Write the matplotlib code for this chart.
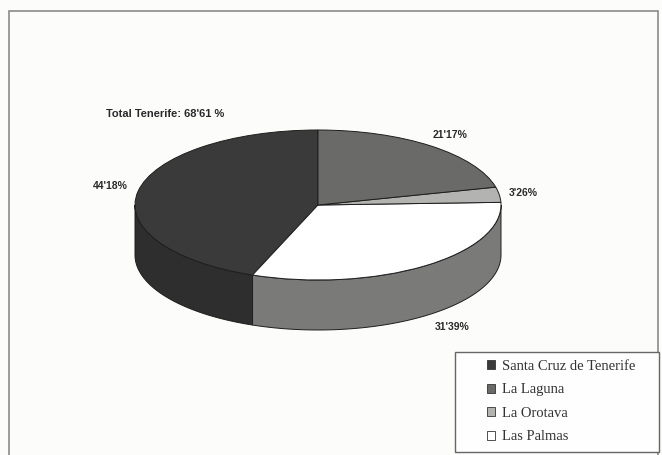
import matplotlib
matplotlib.use('Agg')
import matplotlib.pyplot as plt
import matplotlib.transforms as mtransforms
from matplotlib.patches import Patch, Rectangle
import numpy as np

# data
labels = ['Santa Cruz de Tenerife', 'La Laguna', 'La Orotava', 'Las Palmas']
values = [44.18, 21.17, 3.26, 31.39]
pct_text = ["44'18%", "21'17%", "3'26%", "31'39%"]
total_text = "Total Tenerife: 68'61 %"

# pie is drawn counterclockwise from the top: Santa Cruz, Las Palmas, La Orotava, La Laguna
order = [0, 3, 2, 1]

top_colors = {0: '#3a3a3a', 1: '#6a6a69', 2: '#b3b3b2', 3: '#ffffff'}
side_colors = {0: '#2e2e2e', 1: '#5c5c5c', 2: '#9a9a9a', 3: '#7a7a79'}
bg = '#fcfcfa'

W, H = 662, 455
CX, CY, R = 318, 205, 183      # pixel centre and horizontal radius of the top face
K = 75 / 183                   # vertical squash of the ellipse
DEPTH = 50 / 183               # thickness of the pie


def px(x, y):
    return (x - CX) / R, (CY - y) / R


fig = plt.figure(figsize=(W / 100, H / 100), dpi=100, facecolor=bg)
ax = fig.add_axes([0, 0, 1, 1])
ax.set_facecolor(bg)

wedges, _ = ax.pie([values[i] for i in order], startangle=90, counterclock=True,
                   colors=[top_colors[i] for i in order],
                   wedgeprops=dict(edgecolor='#1e1e1e', linewidth=0.7))

squash = mtransforms.Affine2D().scale(1, K) + ax.transData
for w in wedges:
    w.set_transform(squash)
    w.set_zorder(3)

# side walls for the front half of the pie
for w, i in zip(wedges, order):
    t1, t2 = w.theta1, w.theta2
    for lo, hi in [(180, 360), (540, 720)]:
        a, b = max(t1, lo), min(t2, hi)
        if b <= a:
            continue
        t = np.radians(np.linspace(a, b, 120))
        xs = np.concatenate([np.cos(t), np.cos(t[::-1])])
        ys = np.concatenate([K * np.sin(t), K * np.sin(t[::-1]) - DEPTH])
        ax.fill(xs, ys, facecolor=side_colors[i], edgecolor='#1e1e1e',
                linewidth=0.7, zorder=2)

ax.set_xlim(px(0, 0)[0], px(W, 0)[0])
ax.set_ylim(px(0, H)[1], px(0, 0)[1])
ax.set_aspect('auto')
ax.axis('off')

# percentage labels
lab_pos = {0: (110, 186), 1: (450, 135), 2: (523, 193), 3: (452, 327)}
for i in range(len(values)):
    x, y = px(*lab_pos[i])
    ax.text(x, y, pct_text[i], fontsize=7.5, fontweight='bold', family='Liberation Sans',
            color='#2a2a2a', ha='center', va='center', zorder=5)

x, y = px(165, 114)
ax.text(x, y, total_text, fontsize=8, fontweight='bold', family='Liberation Sans',
        color='#2a2a2a', ha='center', va='center', zorder=5)

# outer frame
x0, y0 = px(9, 11)
x1, y1 = px(658, 470)
ax.add_patch(Rectangle((x0, y1), x1 - x0, y0 - y1, fill=False, edgecolor='#8a8a8a',
                       linewidth=1.2, zorder=1, clip_on=False))

# legend box
x0, y0 = px(455, 352)
x1, y1 = px(659, 452)
ax.add_patch(Rectangle((x0, y1), x1 - x0, y0 - y1, facecolor='#fefefe', edgecolor='#666666',
                       linewidth=1.0, zorder=4))

handles = [Patch(facecolor=top_colors[i], edgecolor='#333333', linewidth=0.6)
           for i in range(len(labels))]
leg = ax.legend(handles, labels, loc='upper left', bbox_to_anchor=(487 / W, 1 - 360 / H),
                bbox_transform=fig.transFigure, frameon=False,
                prop={'family': 'Liberation Serif', 'size': 10.5},
                handlelength=0.55, handleheight=0.55, handletextpad=0.45,
                labelspacing=0.72, borderpad=0, borderaxespad=0)
leg.set_zorder(6)
for t in leg.get_texts():
    t.set_color('#333333')

fig.savefig('out.png', dpi=100, facecolor=bg)
